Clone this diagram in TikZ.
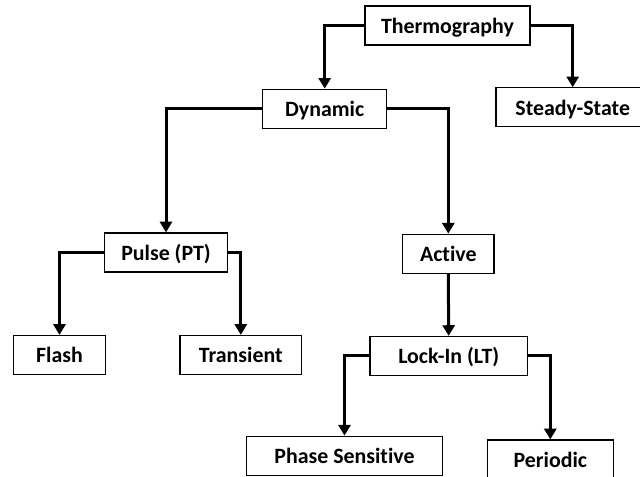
\documentclass[tikz,border=0pt]{standalone}
\usepackage{fontspec}
\setmainfont{Carlito}[Ligatures=NoCommon]
\usetikzlibrary{arrows.meta}

\begin{document}
\begin{tikzpicture}[x=0.75pt,y=0.75pt,yscale=-1,xscale=1,
  box/.style={draw, line width=0.9pt, fill=white, inner sep=0pt, minimum height=29.25pt,
    text height=13pt, text depth=1.3pt,
    font=\fontsize{16.4}{19}\selectfont\bfseries},
  conn/.style={line width=2.25pt, -{Triangle[width=9pt,length=8pt]}}]
\clip (0,0) rectangle (640,477);

% Boxes
\node [box, minimum width=123.75pt] (therm) at (447.5,25.5) {Thermography};
\node [box, minimum width=115pt] (steady) at (572.7,107.3) {Steady-State};
\node [box, minimum width=93pt] (dyn) at (324.7,108.8) {Dynamic};
\node [box, minimum width=92.75pt] (pulse) at (166,252.5) {Pulse (PT)};
\node [box, minimum width=68.5pt] (active) at (448.3,253.7) {Active};
\node [box, minimum width=69.25pt] (flash) at (59.5,355) {Flash};
\node [box, minimum width=91.25pt] (trans) at (240.8,355) {Transient};
\node [box, minimum width=118pt] (lockin) at (448.7,356) {Lock-In (LT)};
\node [box, minimum width=146.75pt] (phase) at (344.5,455.7) {Phase Sensitive};
\node [box, minimum width=94.5pt, minimum height=30pt] (periodic) at (550.3,460) {Periodic};

% Connectors
\draw [conn] (therm.west) -| (dyn.north);
\draw [conn] (therm.east) -| (steady.north);
\draw [conn] (dyn.west) -| (pulse.north);
\draw [conn] (dyn.east) -| (active.north);
\draw [conn] (pulse.west) -| (flash.north);
\draw [conn] (pulse.east) -| (trans.north);
\draw [conn] (active.south) -- (lockin.north);
\draw [conn] (lockin.west) -| (phase.north);
\draw [conn] (lockin.east) -| (periodic.north);

\end{tikzpicture}
\end{document}
